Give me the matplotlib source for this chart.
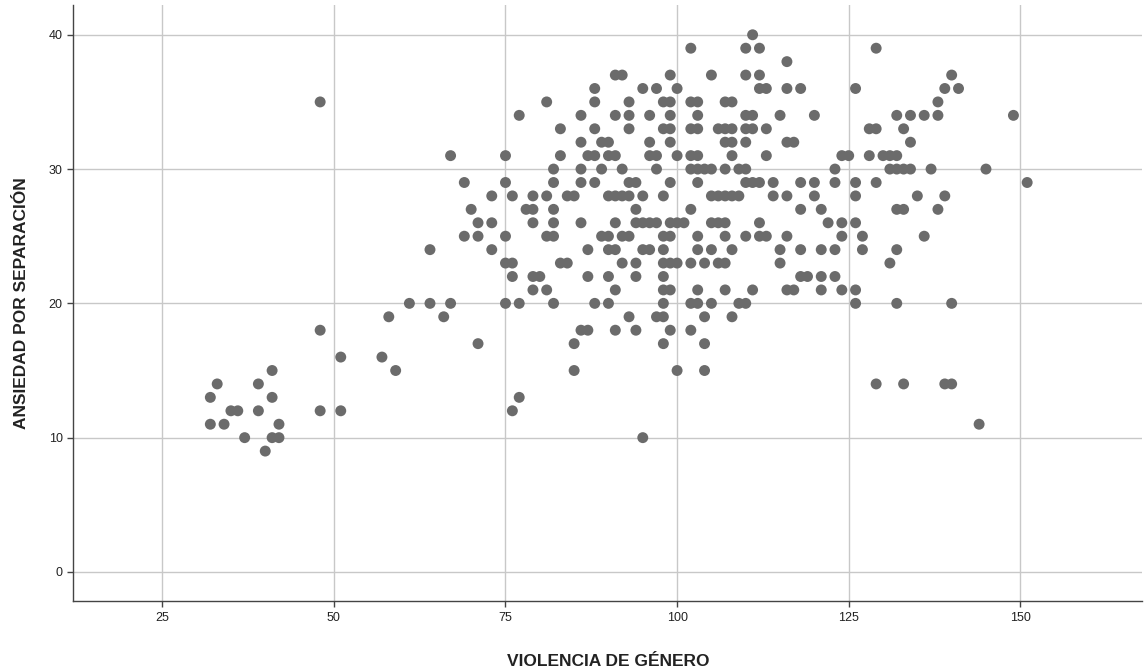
import numpy as np
import matplotlib
matplotlib.use("Agg")
import matplotlib.pyplot as plt

plt.rcParams['font.family'] = ['Liberation Sans', 'DejaVu Sans']

# Violencia de genero (x) grouped by Ansiedad por separacion (y)
rows = {
    40: [111],
    39: [102, 110, 112, 129],
    38: [116],
    37: [91, 92, 99, 105, 110, 112, 140],
    36: [88, 95, 97, 100, 112, 113, 116, 118, 126, 139, 141],
    35: [48, 81, 88, 93, 98, 99, 102, 103, 107, 108, 138],
    34: [77, 86, 91, 93, 96, 99, 103, 110, 111, 115, 120, 132, 134, 136, 138, 149],
    33: [83, 88, 93, 98, 99, 102, 103, 106, 107, 108, 110, 111, 113, 128, 129, 133],
    32: [86, 89, 90, 96, 99, 107, 108, 110, 116, 117, 134],
    31: [67, 75, 83, 87, 88, 90, 91, 96, 97, 100, 102, 103, 108, 113, 124, 125,
         128, 130, 131, 132],
    30: [82, 86, 89, 92, 97, 102, 103, 104, 105, 107, 109, 110, 123, 131, 132,
         133, 134, 137, 145],
    29: [69, 75, 82, 86, 88, 93, 94, 99, 103, 110, 111, 112, 114, 118, 120, 123,
         126, 129, 151],
    28: [73, 76, 79, 81, 84, 85, 90, 91, 92, 93, 95, 98, 105, 106, 107, 108, 109,
         114, 116, 120, 126, 135, 139],
    27: [70, 78, 79, 82, 94, 102, 118, 121, 132, 133, 138],
    26: [71, 73, 79, 82, 86, 91, 94, 95, 96, 97, 99, 100, 101, 105, 106, 107, 112,
         122, 124, 126],
    25: [69, 71, 75, 81, 82, 89, 90, 92, 93, 98, 99, 103, 107, 110, 112, 113, 116,
         124, 127, 136],
    24: [64, 73, 87, 90, 91, 95, 96, 98, 103, 105, 108, 115, 118, 121, 123, 127, 132],
    23: [75, 76, 83, 84, 92, 94, 98, 99, 100, 102, 104, 106, 107, 115, 131],
    22: [76, 79, 80, 87, 90, 94, 98, 118, 119, 121, 123],
    21: [79, 81, 91, 98, 99, 103, 107, 111, 116, 117, 121, 124, 126],
    20: [61, 64, 67, 75, 77, 82, 88, 90, 98, 102, 103, 105, 109, 110, 126, 132, 140],
    19: [58, 66, 93, 97, 98, 104, 108],
    18: [48, 86, 87, 91, 94, 99, 102],
    17: [71, 85, 98, 104],
    16: [51, 57],
    15: [41, 59, 85, 100, 104],
    14: [33, 39, 129, 133, 139, 140],
    13: [32, 41, 77],
    12: [35, 36, 39, 48, 51, 76],
    11: [32, 34, 42, 144],
    10: [37, 41, 42, 95],
    9: [40],
}

violencia = []
ansiedad = []
for yv, xs in rows.items():
    for xv in xs:
        violencia.append(xv)
        ansiedad.append(yv)

x_ticks = [25, 50, 75, 100, 125, 150]
y_ticks = [0, 10, 20, 30, 40]

fig = plt.figure(figsize=(11.45, 6.71), dpi=100)
ax = fig.add_axes([0.0638, 0.104, 0.934, 0.889])

ax.scatter(violencia, ansiedad, s=62, color='#6b6b6b', edgecolors='none', zorder=3)

ax.set_xlim(12.0, 167.8)
ax.set_ylim(-2.18, 42.24)
ax.set_xticks(x_ticks)
ax.set_yticks(y_ticks)
ax.grid(True, color='#c8c8c8', linewidth=1.0, zorder=0)
ax.set_axisbelow(True)

for side in ['top', 'right']:
    ax.spines[side].set_visible(False)
for side in ['left', 'bottom']:
    ax.spines[side].set_color('#444444')
    ax.spines[side].set_linewidth(1.0)

ax.tick_params(axis='both', labelsize=9, colors='#444444', length=4, width=1.0)
ax.tick_params(axis='both', labelcolor='#222222')

ax.set_xlabel('VIOLENCIA DE GÉNERO', fontsize=12.5, fontweight='bold', color='#222222', labelpad=22)
ax.set_ylabel('ANSIEDAD POR SEPARACIÓN', fontsize=12.5, fontweight='bold', color='#222222', labelpad=14)

fig.savefig('out.png', dpi=100)
